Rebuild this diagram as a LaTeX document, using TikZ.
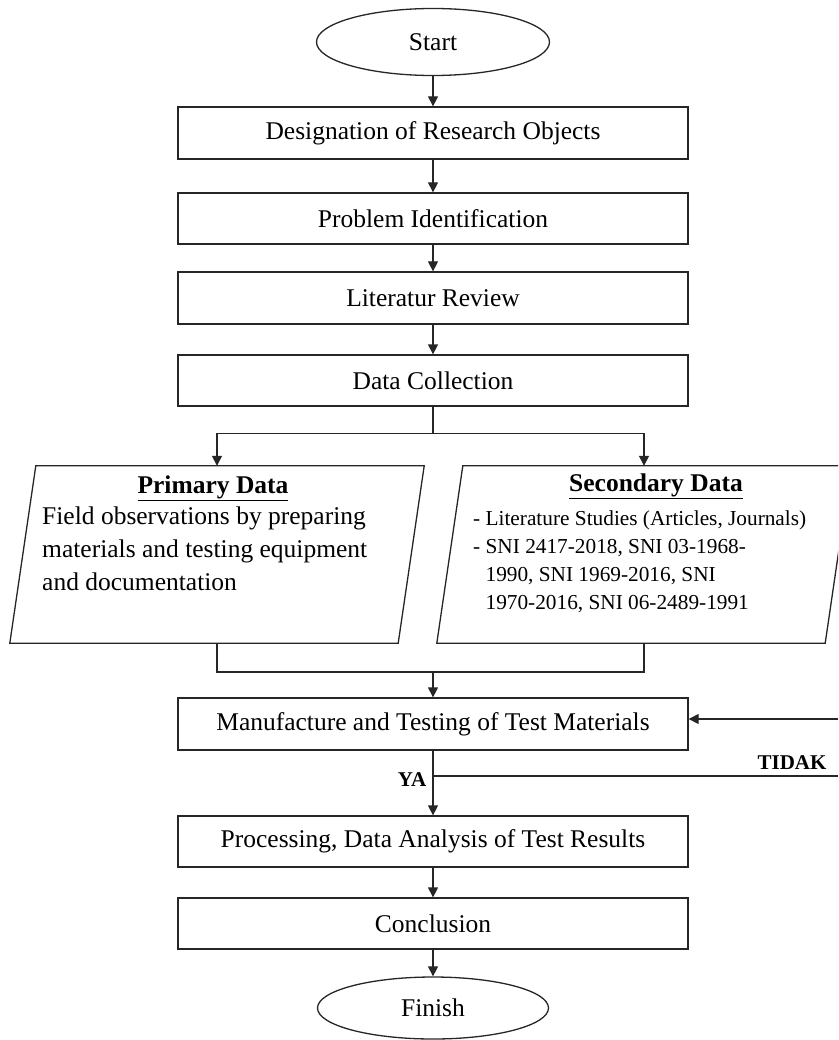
\documentclass[tikz,border=0pt]{standalone}
\usepackage{fontspec}
\setmainfont{Liberation Serif}
\usetikzlibrary{arrows.meta,shapes.geometric,calc}
\begin{document}
\begin{tikzpicture}[x=1pt,y=-1pt,
  line/.style={line width=1.3pt, draw=black!85},
  arr/.style={line, -{Triangle[length=10pt,width=10pt]}},
  procbox/.style={line, rectangle, minimum width=510pt, minimum height=52pt, inner sep=0pt, font=\fontsize{25.5}{30}\selectfont},
  term/.style={line, ellipse, inner sep=0pt, font=\fontsize{25.5}{30}\selectfont},
  holder/.style={draw=none, rectangle, minimum width=388pt, minimum height=177pt, inner sep=0pt},
  lbl/.style={font=\fontsize{21}{25}\selectfont\bfseries, inner sep=0pt},
  ttl/.style={font=\fontsize{25.5}{30}\selectfont\bfseries, inner sep=0pt, anchor=base}]
\useasboundingbox (0,0) rectangle (838,1040);
\clip (0,0) rectangle (838,1040);

% terminals and process boxes
\node[term, minimum width=233pt, minimum height=67pt] (start) at (433,42) {Start};
\node[procbox] (des) at (433,133) {Designation of Research Objects};
\node[procbox, minimum height=51pt] (prob) at (433,218.5) {Problem Identification};
\node[procbox] (lit) at (433,298) {Literatur Review};
\node[procbox, minimum height=51pt] (dc) at (433,380.5) {Data Collection};
\node[procbox] (man) at (433,724) {Manufacture and Testing of Test Materials};
\node[procbox, minimum height=51pt] (proc) at (433,841.5) {Processing, Data Analysis of Test Results};
\node[procbox, minimum height=51pt] (conc) at (433,923.5) {Conclusion};
\node[term, minimum width=231pt, minimum height=62pt] (fin) at (433,1008) {Finish};

% data parallelograms
\node[holder] (prim) at (217,554.5) {};
\draw[line] ([xshift=13pt]prim.north west) -- ([xshift=13pt]prim.north east)
  -- ([xshift=-13pt]prim.south east) -- ([xshift=-13pt]prim.south west) -- cycle;
\node[ttl] (primt) at (213,493) {\underline{Primary Data}};
\node[anchor=north west, align=left, inner sep=0pt, font=\fontsize{25.5}{33}\selectfont] (primb) at (42,507)
  {Field observations by preparing\\materials and testing equipment\\and documentation};

\node[holder] (sec) at (644,554.5) {};
\draw[line] ([xshift=13pt]sec.north west) -- ([xshift=13pt]sec.north east)
  -- ([xshift=-13pt]sec.south east) -- ([xshift=-13pt]sec.south west) -- cycle;
\node[ttl] (sect) at (656,491) {\underline{Secondary Data}};
\node[anchor=north west, align=left, inner sep=0pt, font=\fontsize{21.3}{28}\selectfont] (secb) at (473,511)
  {-\ Literature Studies (Articles, Journals)\\-\ SNI 2417-2018, SNI 03-1968-\\\phantom{-\ }1990, SNI 1969-2016, SNI\\\phantom{-\ }1970-2016, SNI 06-2489-1991};

% connectors
\draw[arr] (start) -- (des);
\draw[arr] (des) -- (prob);
\draw[arr] (prob) -- (lit);
\draw[arr] (lit) -- (dc);
\draw[line] (dc.south) -- ++(0,27) coordinate (split);
\draw[arr] (split) -| (prim.north);
\draw[arr] (split) -| (sec.north);
\coordinate (merge) at (433,672);
\draw[line] (prim.south) |- (merge);
\draw[line] (sec.south) |- (merge);
\draw[arr] (merge) -- (man.north);
\draw[arr] (man) -- (proc);
\coordinate (fbin) at (838,719);
\draw[arr] (fbin) -- (fbin -| man.east);
\coordinate (tright) at (838,776);
\draw[line] (tright) -- (tright -| man.south);
\draw[arr] (proc) -- (conc);
\draw[arr] (conc) -- (fin);

% labels
\node[lbl] (ya) at (412,780) {YA};
\node[lbl] (tidak) at (792,763) {TIDAK};
\end{tikzpicture}
\end{document}
